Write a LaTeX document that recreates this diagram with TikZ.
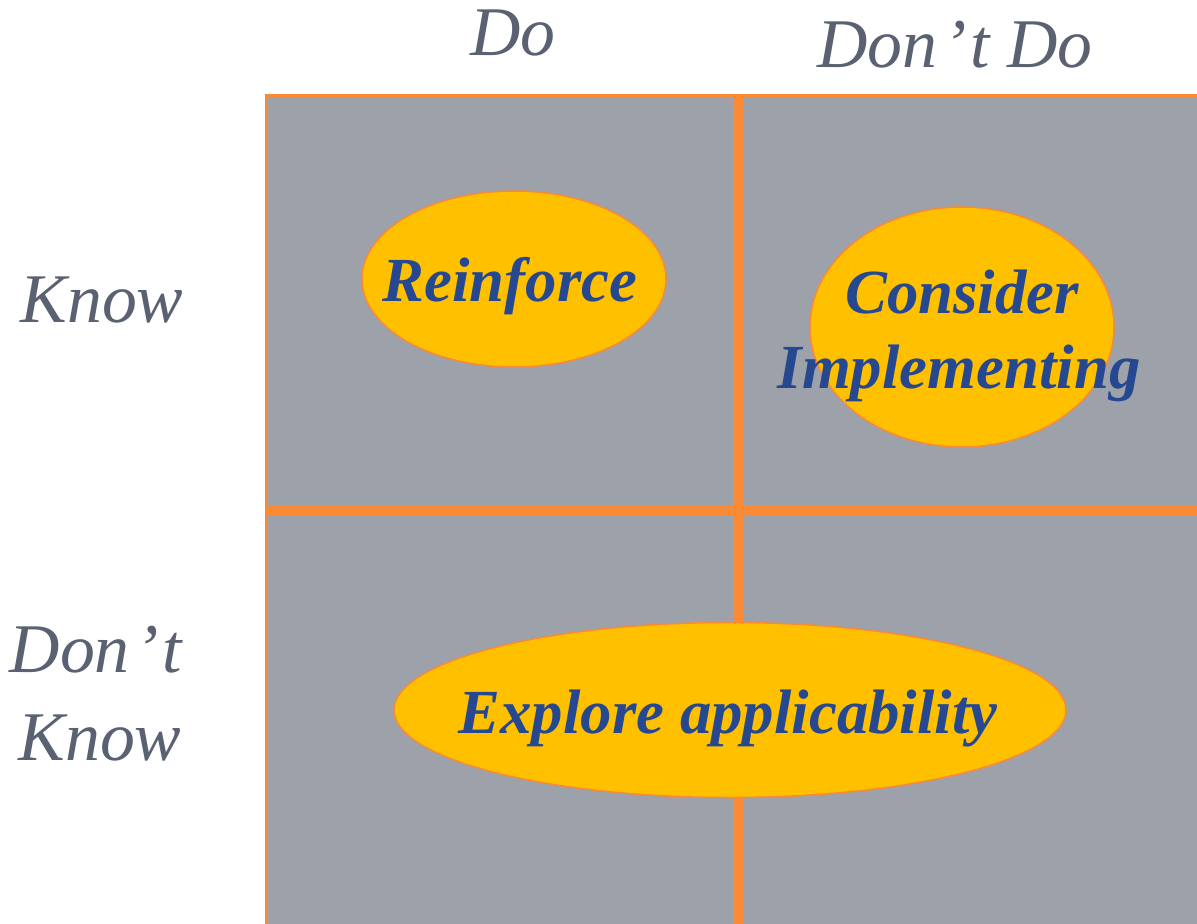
\documentclass[tikz,border=0pt]{standalone}
\usepackage{fontspec}
\setmainfont{Liberation Serif}
\usetikzlibrary{shapes.geometric}
\definecolor{cellgray}{HTML}{9DA1AA}
\definecolor{gridorange}{HTML}{F98A36}
\definecolor{blobfill}{HTML}{FFC000}
\definecolor{blobtext}{HTML}{264890}
\definecolor{labelgray}{HTML}{5A6171}
\newcommand{\apos}{\kern6bp’\kern4bp}
\tikzset{
  headlabel/.style={anchor=base, inner sep=0pt, text=labelgray, font=\fontsize{70}{84}\selectfont\itshape},
  blob/.style={ellipse, draw=gridorange, line width=1.5bp, fill=blobfill, inner sep=0pt},
  blobtxt/.style={anchor=base, inner sep=0pt, text=blobtext, font=\fontsize{63}{75}\selectfont\bfseries\itshape},
  gridline/.style={draw=gridorange, line width=10bp},
}
\begin{document}
\begin{tikzpicture}[x=1bp,y=-1bp]
\useasboundingbox (0,0) rectangle (1197,924);
% grid area
\fill[cellgray] (266,95) rectangle (1197,924);
\coordinate (tl) at (266,95);
\coordinate (tr) at (1197,95);
\coordinate (bl) at (266,924);
\draw[gridorange, line width=3bp] (bl) -- (tl) -- (tr);
\coordinate (vtop) at (738,95);
\coordinate (vbot) at (738,924);
\coordinate (hleft) at (266,511);
\coordinate (hright) at (1197,511);
\draw[gridline] (vtop) -- (vbot);
\draw[gridline] (hleft) -- (hright);
% headings
\node[headlabel] (do) at (513,55) {Do};
\node[headlabel] (dontdo) at (955,67) {Don\apos t Do};
\node[headlabel] (know) at (102,322) {Know};
\node[headlabel] (dont) at (96,672) {Don\apos t};
\node[headlabel] (know2) at (100,760) {Know};
% ellipses
\node[blob, minimum width=304bp, minimum height=176bp] (reinforce) at (514,279) {};
\node[blob, minimum width=304bp, minimum height=240bp] (consider) at (962,327) {};
\node[blob, minimum width=672bp, minimum height=175bp] (explore) at (730,710) {};
\node[blobtxt] (reinforcetxt) at (510,301) {Reinforce};
\node[blobtxt] (considertxt) at (962,313) {Consider};
\node[blobtxt] (implementtxt) at (959,388) {Implementing};
\node[blobtxt] (exploretxt) at (728,733) {Explore applicability};
\end{tikzpicture}
\end{document}
